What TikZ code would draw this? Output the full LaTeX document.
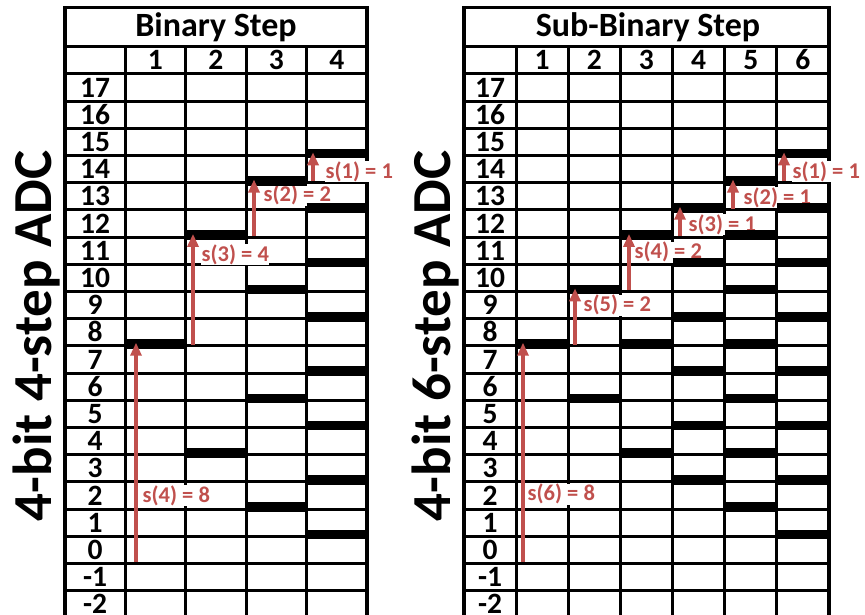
\documentclass[tikz,border=0pt]{standalone}
\usepackage{fontspec}
\setmainfont{Carlito}
\usepackage{tikz}
\usetikzlibrary{arrows.meta}
\definecolor{stepred}{HTML}{C0504D}

\begin{document}
\begin{tikzpicture}[x=1pt, y=27.2pt,
    gridline/.style={line width=3pt},
    tblframe/.style={line width=3.5pt},
    lvlbar/.style={line width=9.5pt, yshift=2pt},
    stepup/.style={stepred, line width=4pt, -{Triangle[width=11pt,length=13pt]}},
    steplbl/.style={stepred, font=\bfseries\fontsize{22.5}{24}\selectfont, anchor=west, fill=white, inner sep=0.5pt},
    rowlbl/.style={font=\bfseries\fontsize{29.5}{30}\selectfont, inner sep=0pt, anchor=base,
      text height=18pt, text depth=0pt, yshift=-9.5pt},
    titlelbl/.style={font=\bfseries\fontsize{34}{34}\selectfont, inner sep=0pt},
    sidelbl/.style={font=\bfseries\fontsize{55}{55}\selectfont, rotate=90, anchor=base, inner sep=0pt},
  ]
  \useasboundingbox (0,-2.39) rectangle (865,20.22);

  % binary step table
  \draw[tblframe] (65,-2.5) rectangle (367,19.94);
  \draw[gridline] (65,18.5) -- (367,18.5);
  \foreach \y in {-1.5,...,17.5} \draw[gridline] (65,\y) -- (367,\y);
  \foreach \x in {125,185.5,246,306.5} \draw[gridline] (\x,-2.5) -- (\x,18.5);
  \node[titlelbl] (bintitle) at (216,19.22) {Binary Step};
  \foreach \c [evaluate=\c as \x using 125+60.5*(\c-0.5)] in {1,...,4}
    \node[rowlbl] (binhead\c) at (\x,18) {\c};
  \foreach \v in {-2,...,17} \node[rowlbl] (binrow\v) at (95,\v) {\v};
  \node[sidelbl] (binside) at (51,7.87) {4-bit 4-step ADC};
  \foreach \x/\y/\t [count=\i] in {142/2/s(4) = 8, 201/10.85/s(3) = 4,
      263/13.05/s(2) = 2, 325/13.9/s(1) = 1}
    \node[steplbl] (binlbl\i) at (\x,\y) {\t};
  \foreach \c/\lst in {1/{7.5}, 2/{3.5,11.5}, 3/{1.5,5.5,9.5,13.5}, 4/{0.5,2.5,...,14.5}}
    \foreach \y in \lst
      \draw[lvlbar] ({125+60.5*(\c-1)},\y) -- ({125+60.5*\c},\y);
  \foreach \x/\a/\b in {136/-0.5/7.5, 193/7.5/11.5, 254/11.5/13.5, 313/13.5/14.5}
    \draw[stepup] (\x,\a+0.05) -- (\x,\b+0.12);

  % sub-binary step table
  \draw[tblframe] (464,-2.5) rectangle (829,19.94);
  \draw[gridline] (464,18.5) -- (829,18.5);
  \foreach \y in {-1.5,...,17.5} \draw[gridline] (464,\y) -- (829,\y);
  \foreach \c in {0,...,5} \draw[gridline] ({516+52.17*\c},-2.5) -- ({516+52.17*\c},18.5);
  \node[titlelbl] (subtitle) at (648,19.22) {Sub-Binary Step};
  \foreach \c [evaluate=\c as \x using 516+52.17*(\c-0.5)] in {1,...,6}
    \node[rowlbl] (subhead\c) at (\x,18) {\c};
  \foreach \v in {-2,...,17} \node[rowlbl] (subrow\v) at (490,\v) {\v};
  \node[sidelbl] (subside) at (450,7.87) {4-bit 6-step ADC};
  \foreach \x/\y/\t [count=\i] in {527/2.05/s(6) = 8, 583/9/s(5) = 2, 634/10.95/s(4) = 2,
      688/11.95/s(3) = 1, 743/12.96/s(2) = 1, 792/13.9/s(1) = 1}
    \node[steplbl] (sublbl\i) at (\x,\y) {\t};
  \foreach \c/\lst in {1/{7.5}, 2/{5.5,9.5}, 3/{3.5,7.5,11.5}, 4/{2.5,4.5,...,12.5},
      5/{1.5,3.5,...,13.5}, 6/{0.5,2.5,...,14.5}}
    \foreach \y in \lst
      \draw[lvlbar] ({516+52.17*(\c-1)},\y) -- ({516+52.17*\c},\y);
  \foreach \x/\a/\b in {523/-0.5/7.5, 575/7.5/9.5, 629/9.5/11.5, 680/11.5/12.5,
      733/12.5/13.5, 784/13.5/14.5}
    \draw[stepup] (\x,\a+0.05) -- (\x,\b+0.12);
\end{tikzpicture}
\end{document}
